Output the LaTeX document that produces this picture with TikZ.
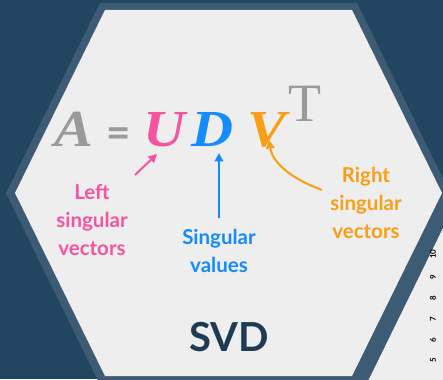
\documentclass[tikz,border=0pt]{standalone}
\usepackage{fontspec}
\usetikzlibrary{arrows.meta}
\setmainfont{Liberation Serif}
\newfontfamily\lblfont{Lato}
\definecolor{bgdark}{HTML}{22465F}
\definecolor{band}{HTML}{3D5B74}
\definecolor{paper}{HTML}{EEEEEE}
\definecolor{grayA}{HTML}{9A9A9A}
\definecolor{pinkU}{HTML}{F754A0}
\definecolor{blueD}{HTML}{148CFF}
\definecolor{orangeV}{HTML}{F99F16}
\definecolor{navy}{HTML}{1F3B53}
\begin{document}
\begin{tikzpicture}[x=1pt,y=-1pt,
  letter/.style={font=\fontsize{52}{52}\selectfont\bfseries\itshape, anchor=base, inner sep=0pt, xscale=1.12},
  lbl/.style={font=\lblfont\bfseries\fontsize{20.5}{28}\selectfont, align=center, anchor=north, inner sep=0pt},
  ptr/.style={line width=2pt, -{Triangle[length=8.5pt,width=8.5pt]}},
  rulernum/.style={font=\lblfont\bfseries\fontsize{8}{8}\selectfont, rotate=90, inner sep=0pt, text=black}]
\useasboundingbox (0,0) rectangle (443,379);
\fill[bgdark] (0,0) rectangle (443,379);
\fill[paper] (455,203) -- (480,203) -- (480,395) -- (361,395) -- cycle;
\fill[band] (100,3) -- (357,3) -- (455,203) -- (361,395) -- (105,395) -- (6,193) -- cycle;
\fill[paper] (105,10) -- (352,10) -- (442,193) -- (352,376) -- (105,376) -- (15,193) -- cycle;
% formula
\node[letter, text=grayA] (A) at (74,147) {A};
\node[font=\lblfont\bfseries\fontsize{42}{42}\selectfont, text=grayA, anchor=base, inner sep=0pt] (eq) at (119,148) {=};
\node[letter, text=pinkU] (U) at (165,147) {U};
\node[letter, text=blueD] (D) at (213,147) {D};
\node[letter, text=orangeV] (V) at (267,147) {V};
\node[font=\fontsize{54}{54}\selectfont, text=grayA, anchor=base, inner sep=0pt] (T) at (305,122) {T};
% labels
\node[lbl, text=pinkU] (left) at (92,184) {Left\\singular\\vectors};
\node[lbl, text=blueD] (sing) at (219,229) {Singular\\values};
\node[lbl, text=orangeV] (right) at (366,167) {Right\\singular\\vectors};
\node[font=\lblfont\bfseries\fontsize{40}{40}\selectfont, text=navy, anchor=base, inner sep=0pt] (svd) at (229,351) {SVD};
% arrows
\coordinate (pl0) at (135,175);
\coordinate (pl1) at (157,154);
\coordinate (bl0) at (219,218);
\coordinate (bl1) at (219,153);
\coordinate (ol0) at (322,190);
\coordinate (ol1) at (269,140);
\draw[ptr, pinkU] (pl0) -- (pl1);
\draw[ptr, blueD] (bl0) -- (bl1);
\draw[ptr, orangeV] (ol0) .. controls (295,180) and (273,165) .. (ol1);
% ruler
\foreach \n/\y in {5/360,6/340,7/319,8/298,9/277,10/254}
  \node[rulernum] (r\n) at (433,\y) {\n};
\end{tikzpicture}
\end{document}
